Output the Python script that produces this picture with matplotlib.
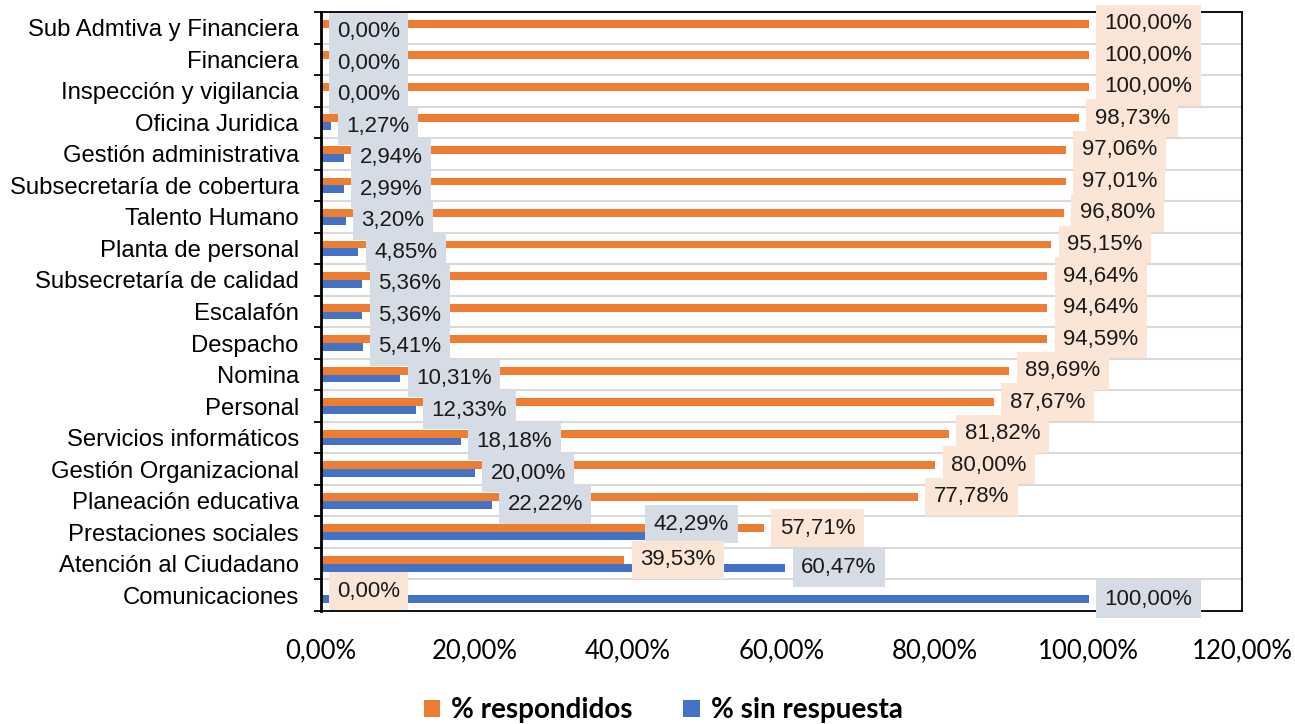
import matplotlib.pyplot as plt
import numpy as np

# Datos
categorias = [
    'Sub Admtiva y Financiera', 'Financiera', 'Inspección y vigilancia',
    'Oficina Juridica', 'Gestión administrativa', 'Subsecretaría de cobertura',
    'Talento Humano', 'Planta de personal', 'Subsecretaría de calidad',
    'Escalafón', 'Despacho', 'Nomina', 'Personal', 'Servicios informáticos',
    'Gestión Organizacional', 'Planeación educativa', 'Prestaciones sociales',
    'Atención al Ciudadano', 'Comunicaciones'
]
respondidos = [100.00, 100.00, 100.00, 98.73, 97.06, 97.01, 96.80, 95.15, 94.64,
               94.64, 94.59, 89.69, 87.67, 81.82, 80.00, 77.78, 57.71, 39.53, 0.00]
sin_respuesta = [0.00, 0.00, 0.00, 1.27, 2.94, 2.99, 3.20, 4.85, 5.36,
                 5.36, 5.41, 10.31, 12.33, 18.18, 20.00, 22.22, 42.29, 60.47, 100.00]
ticks_x = [0, 20, 40, 60, 80, 100, 120]

naranja = '#ED7D31'
azul = '#4472C4'
caja_naranja = '#FBE5D6'
caja_azul = '#D6DCE5'


def fmt(v):
    return f"{v:.2f}%".replace('.', ',')


fig = plt.figure(figsize=(12.95, 7.24), dpi=100)
ax = fig.add_axes([321 / 1295, 1 - 611 / 724, (1242 - 321) / 1295, (611 - 12) / 724])

y = np.arange(len(categorias))
h = 0.25
ax.barh(y - h / 2, respondidos, height=h, color=naranja, zorder=2, label='% respondidos')
ax.barh(y + h / 2, sin_respuesta, height=h, color=azul, zorder=2, label='% sin respuesta')

# Etiquetas de datos
for i in range(len(categorias)):
    ax.annotate(fmt(respondidos[i]), xy=(respondidos[i], y[i] - h / 2),
                xytext=(11.5, 0), textcoords='offset points',
                ha='left', va='center', fontsize=16, family='Liberation Sans',
                color='#1a1a1a', zorder=4,
                bbox=dict(boxstyle='square,pad=0.38', fc=caja_naranja, ec='none'))
    dy = 8.5 if sin_respuesta[i] == 42.29 else 0
    dx = 6 if sin_respuesta[i] == 42.29 else 11.5
    ax.annotate(fmt(sin_respuesta[i]), xy=(sin_respuesta[i], y[i] + h / 2),
                xytext=(dx, dy), textcoords='offset points',
                ha='left', va='center', fontsize=16, family='Liberation Sans',
                color='#1a1a1a', zorder=4,
                bbox=dict(boxstyle='square,pad=0.38', fc=caja_azul, ec='none'))

ax.set_xlim(0, 120)
ax.set_ylim(len(categorias) - 0.5, -0.5)

ax.set_xticks(ticks_x)
ax.set_xticklabels([fmt(t) for t in ticks_x], family='Lato', fontsize=18.5)
ax.tick_params(axis='x', length=0, pad=20)

ax.set_yticks(y)
ax.set_yticklabels(categorias, family='Liberation Sans', fontsize=17.2)
ax.tick_params(axis='y', which='major', length=0, pad=16)
ax.set_yticks(np.arange(len(categorias) + 1) - 0.5, minor=True)
ax.tick_params(axis='y', which='minor', length=5, width=1.3, direction='out')
ax.grid(axis='y', which='minor', color='#D9D9D9', linewidth=1.5, zorder=0)
ax.set_axisbelow(True)

for lado in ['top', 'right', 'bottom']:
    ax.spines[lado].set_linewidth(1.3)
ax.spines['left'].set_linewidth(2)

fig.legend(loc='center', bbox_to_anchor=(0.512, 0.019), ncol=2, frameon=False,
           prop={'family': 'Lato', 'weight': 'bold', 'size': 20},
           handlelength=0.6, handleheight=0.6, handletextpad=0.4, columnspacing=1.8)

fig.savefig('out.png', dpi=100)
